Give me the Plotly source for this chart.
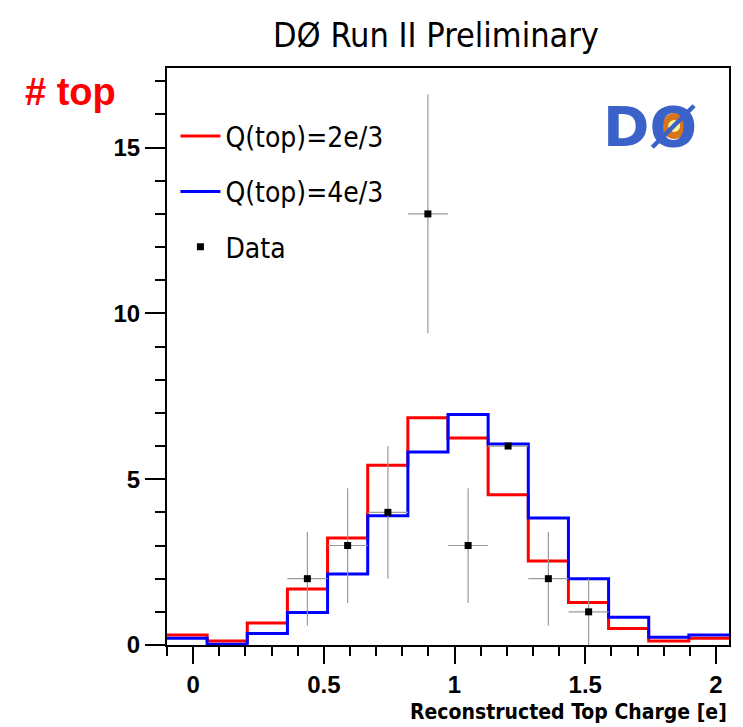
import numpy as np
import plotly.graph_objects as go

# ---- data ----
x_lo, x_hi, n_bins = -0.1, 2.05, 14
q23 = [0.30, 0.12, 0.66, 1.69, 3.23, 5.42, 6.85, 6.24, 4.53, 2.53, 1.28, 0.50, 0.12, 0.20]
q43 = [0.20, 0.02, 0.35, 0.98, 2.14, 3.90, 5.82, 6.95, 6.06, 3.83, 2.00, 0.84, 0.23, 0.30]
data_x = [0.437, 0.591, 0.745, 0.898, 1.052, 1.205, 1.359, 1.513]
data_y = [2, 3, 4, 13, 3, 6, 2, 1]
data_err = [1.41, 1.73, 2.0, 3.6, 1.73, 0.0, 1.41, 1.0]

edges = np.linspace(x_lo, x_hi, n_bins + 1)
half_w = (x_hi - x_lo) / n_bins / 2

W, H = 743, 727
L, R, T, B = 167, 12, 68, 82
plot_w, plot_h = W - L - R, H - T - B


def px(x):
    return (x - L) / plot_w


def py(y):
    return (H - B - y) / plot_h


NARROW = "DejaVu Sans Condensed, Liberation Sans Narrow, Arial Narrow, sans-serif"
SANS = "Liberation Sans, Arial, Helvetica, sans-serif"

fig = go.Figure()
fig.add_trace(go.Scatter(
    x=edges, y=q23 + [q23[-1]], mode="lines", line_shape="hv",
    line=dict(color="#ff0000", width=3), name="Q(top)=2e/3", legendgroup="a"))
fig.add_trace(go.Scatter(
    x=edges, y=q43 + [q43[-1]], mode="lines", line_shape="hv",
    line=dict(color="#0000ff", width=3), name="Q(top)=4e/3", legendgroup="b"))
fig.add_trace(go.Scatter(
    x=data_x, y=data_y, mode="markers", name="Data", legendgroup="c",
    marker=dict(symbol="square", size=7, color="black"),
    error_y=dict(type="data", array=data_err, color="#9a9a9a", thickness=1.2, width=0),
    error_x=dict(type="constant", value=half_w, color="#9a9a9a", thickness=1.2, width=0)))

fig.update_layout(
    width=W, height=H,
    margin=dict(l=L, r=R, t=T, b=B),
    plot_bgcolor="white", paper_bgcolor="white",
    showlegend=True,
    legend=dict(x=0.015, y=0.925, xanchor="left", yanchor="top",
                font=dict(family=NARROW, size=28, color="black"),
                bgcolor="rgba(0,0,0,0)", tracegroupgap=16, traceorder="grouped",
                itemwidth=40),
    title=dict(text="DØ Run II Preliminary", x=436 / W, xanchor="center",
               y=1 - 35 / H, yanchor="middle", xref="container", yref="container",
               font=dict(family=NARROW, size=34, color="black")),
)

fig.update_xaxes(
    range=[x_lo, x_hi], showgrid=False, zeroline=False,
    showline=True, linecolor="black", linewidth=2, mirror=True,
    ticks="outside", ticklen=17, tickwidth=2, tickcolor="black",
    tick0=0, dtick=0.5,
    tickfont=dict(family=SANS, size=24, color="black", weight="bold"),
    minor=dict(dtick=0.1, ticklen=9, tickwidth=2, ticks="outside", tickcolor="black", showgrid=False),
)
fig.update_yaxes(
    range=[0, 17.4], showgrid=False, zeroline=False,
    showline=True, linecolor="black", linewidth=2, mirror=True,
    ticks="outside", ticklen=20, tickwidth=2, tickcolor="black",
    tick0=0, dtick=5,
    tickfont=dict(family=SANS, size=24, color="black", weight="bold"),
    minor=dict(dtick=1, ticklen=10, tickwidth=2, ticks="outside", tickcolor="black", showgrid=False),
)

annotations = [
    dict(text="Reconstructed Top Charge [e]", xref="paper", yref="paper",
         x=1.0, y=py(712), xanchor="right", yanchor="middle", showarrow=False,
         font=dict(family=NARROW, size=21, color="black", weight="bold")),
    dict(text="# top", xref="paper", yref="paper",
         x=px(22), y=py(92), xanchor="left", yanchor="middle", showarrow=False,
         font=dict(family=SANS, size=38, color="#ff0000", weight="bold")),
    dict(text="DØ", xref="paper", yref="paper",
         x=px(652), y=py(126), xanchor="center", yanchor="middle", showarrow=False,
         font=dict(family="DejaVu Sans, sans-serif", size=56, color="#3a62c8",
                   weight="bold")),
]
fig.update_layout(annotations=annotations)

fig.add_shape(type="circle", xref="paper", yref="paper",
              x0=px(664), x1=px(688), y0=py(139), y1=py(113),
              fillcolor="#d8741a", line=dict(width=0), layer="above")
fig.add_shape(type="circle", xref="paper", yref="paper",
              x0=px(670), x1=px(682), y0=py(132), y1=py(120),
              fillcolor="#fff2a0", line=dict(width=0), layer="above")

fig.write_html("out.html")
